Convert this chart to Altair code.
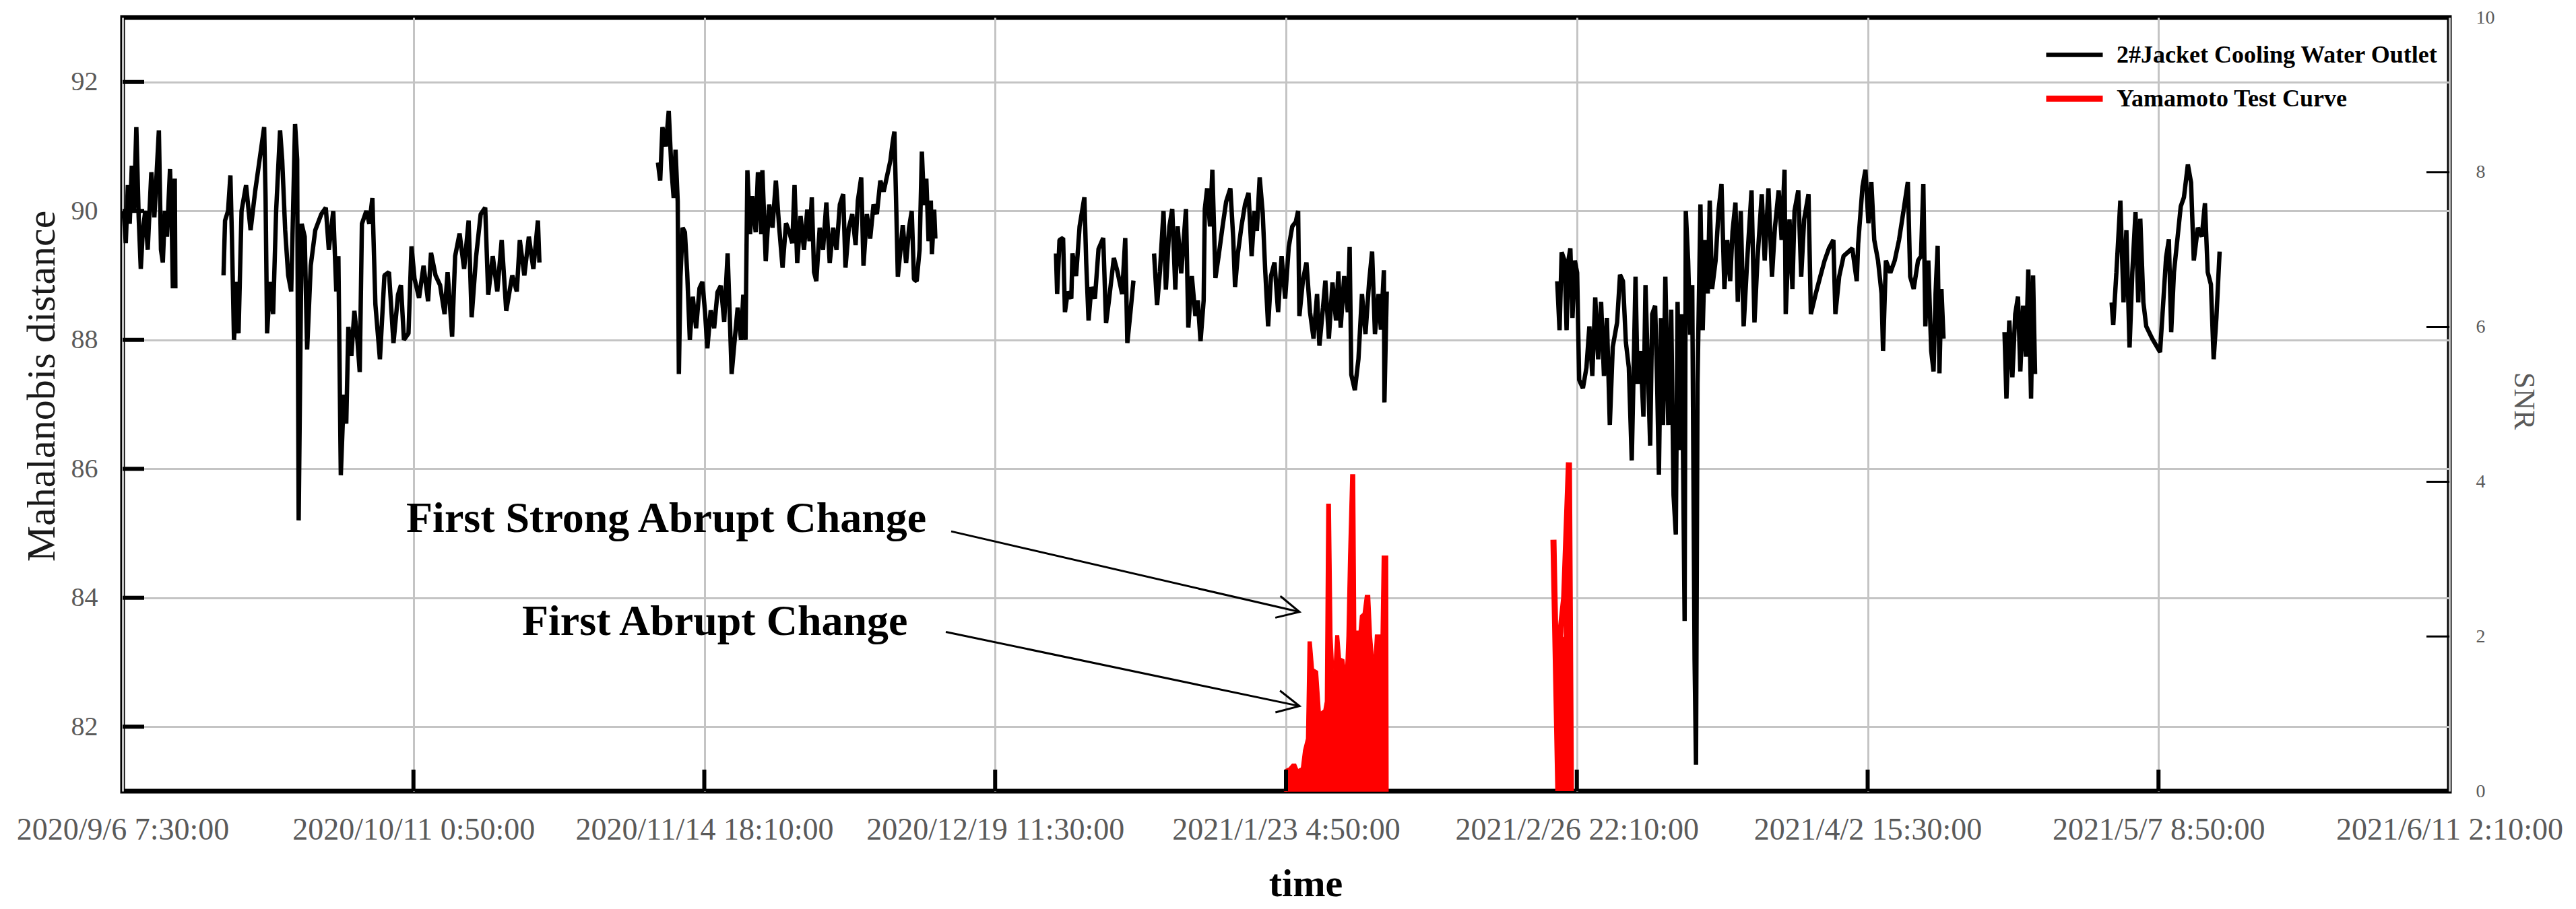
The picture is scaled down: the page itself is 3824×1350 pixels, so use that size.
import altair as alt
import pandas as pd

# ---------------- data ----------------
START = "2020-09-06T07:30:00"
END = "2021-06-11T02:10:00"
tick_times = ["2020-09-06T07:30:00", "2020-10-11T00:50:00", "2020-11-14T18:10:00",
              "2020-12-19T11:30:00", "2021-01-23T04:50:00", "2021-02-26T22:10:00",
              "2021-04-02T15:30:00", "2021-05-07T08:50:00", "2021-06-11T02:10:00"]
inner_tick_times = tick_times[1:-1]
left_ticks = [82, 84, 86, 88, 90, 92]
right_ticks = [0, 2, 4, 6, 8, 10]
right_inner_ticks = [2, 4, 6, 8]

BLACK = "2#Jacket Cooling Water Outlet"
RED = "Yamamoto Test Curve"

# (days after START, Mahalanobis distance)
seg1 = [(0.13, 90.0), (0.38, 89.5), (0.63, 90.4), (0.85, 89.8), (1.1, 90.7), (1.35, 90.0),
        (1.64, 91.3), (1.92, 89.9), (2.17, 89.1), (2.42, 89.7), (2.71, 90.0), (3.0, 89.4),
        (3.43, 90.6), (3.79, 89.9), (4.33, 91.25), (4.58, 89.4), (4.8, 89.2), (5.05, 90.0),
        (5.3, 89.6), (5.66, 90.65), (5.87, 89.8), (6.0, 88.8), (6.23, 90.5), (6.3, 88.8)]
seg2 = [(12.05, 89.0), (12.23, 89.85), (12.59, 90.0), (12.87, 90.55), (13.05, 89.6), (13.3, 88.0),
        (13.66, 88.9), (13.84, 88.1), (14.2, 90.0), (14.74, 90.4), (15.28, 89.7), (15.82, 90.3),
        (16.36, 90.8), (16.9, 91.3), (17.07, 90.2), (17.25, 88.1), (17.61, 88.9), (17.97, 88.4),
        (18.33, 90.0), (18.8, 91.25), (19.05, 90.8), (19.41, 89.7), (19.77, 89.0), (20.13, 88.75),
        (20.59, 91.35), (20.84, 90.8), (21.02, 85.2), (21.38, 89.8), (21.74, 89.6), (22.03, 87.85),
        (22.46, 89.15), (23.0, 89.7), (23.72, 89.95), (24.26, 90.05), (24.62, 89.4), (25.15, 90.0),
        (25.51, 88.75), (25.76, 89.3), (26.05, 85.9), (26.41, 87.15), (26.7, 86.7), (26.95, 88.2),
        (27.31, 87.75), (27.67, 88.45), (28.03, 88.0), (28.31, 87.5), (28.57, 89.8), (29.1, 90.0),
        (29.46, 89.8), (29.82, 90.2), (30.18, 88.55), (30.72, 87.7), (31.26, 89.0), (31.8, 89.05),
        (32.34, 87.95), (32.88, 88.7), (33.23, 88.85), (33.59, 88.0), (34.13, 88.1), (34.49, 89.45),
        (34.85, 88.95), (35.39, 88.65), (35.93, 89.15), (36.47, 88.6), (36.82, 89.35), (37.36, 89.0),
        (37.9, 88.85), (38.44, 88.4), (38.8, 89.05), (39.34, 88.05), (39.7, 89.3), (40.23, 89.65),
        (40.77, 89.1), (41.31, 89.85), (41.67, 88.35), (42.21, 89.3), (42.75, 89.95), (43.29, 90.05),
        (43.65, 88.7), (44.19, 89.3), (44.73, 88.75), (45.26, 89.55), (45.8, 88.45), (46.52, 89.0),
        (47.06, 88.75), (47.42, 89.55), (47.96, 89.0), (48.5, 89.6), (49.04, 89.1), (49.58, 89.85),
        (49.76, 89.2)]
seg3 = [(63.91, 90.75), (64.18, 90.47), (64.45, 91.3), (64.85, 91.0), (65.2, 91.55), (65.52, 90.65),
        (65.79, 90.2), (66.01, 90.95), (66.27, 90.15), (66.41, 87.47), (66.6, 88.98), (66.86, 89.74),
        (67.13, 89.67), (67.4, 89.05), (67.72, 88.0), (68.07, 88.67), (68.47, 88.18), (68.87, 88.8),
        (69.22, 88.9), (69.54, 88.42), (69.81, 87.87), (70.21, 88.46), (70.62, 88.18), (71.02, 88.74),
        (71.42, 88.84), (71.82, 88.28), (72.23, 89.34), (72.49, 88.35), (72.71, 87.47), (73.03, 87.94),
        (73.43, 88.5), (73.83, 88.0), (74.1, 88.7), (74.37, 88.0), (74.59, 90.63), (74.91, 89.64),
        (75.18, 90.23), (75.58, 89.67), (75.85, 90.6), (76.25, 89.64), (76.38, 90.63), (76.78, 89.22),
        (77.19, 90.1), (77.59, 89.74), (77.99, 90.47), (78.39, 89.74), (78.79, 89.12), (79.2, 89.81),
        (79.6, 89.67), (79.95, 89.5), (80.22, 90.4), (80.54, 89.19), (80.94, 89.92), (81.34, 89.4),
        (81.74, 90.02), (82.01, 89.53), (82.28, 90.21), (82.55, 89.05), (82.82, 88.91), (83.22, 89.74),
        (83.62, 89.4), (84.02, 90.13), (84.42, 89.19), (84.83, 89.74), (85.23, 89.4), (85.63, 90.1),
        (86.03, 90.26), (86.3, 89.12), (86.7, 89.74), (87.11, 89.95), (87.51, 89.47), (87.78, 90.16),
        (88.18, 90.52), (88.45, 89.15), (88.85, 89.95), (89.25, 89.57), (89.65, 90.1), (90.05, 89.95),
        (90.46, 90.47), (90.86, 90.3), (91.26, 90.54), (91.66, 90.78), (91.93, 91.06), (92.14, 91.23),
        (92.33, 90.23), (92.55, 88.98), (92.87, 89.4), (93.14, 89.78), (93.54, 89.19), (93.89, 89.74),
        (94.21, 90.0), (94.48, 88.94), (94.8, 88.91), (95.15, 89.4), (95.42, 90.92), (95.68, 90.09),
        (95.95, 90.5), (96.22, 89.53), (96.49, 90.16), (96.62, 89.33), (96.89, 90.02), (97.03, 89.57)]
seg4a = [(111.43, 89.34), (111.57, 88.71), (111.85, 89.55), (112.28, 89.58), (112.5, 88.43),
         (112.84, 88.75), (113.26, 88.64), (113.4, 89.34), (113.83, 88.99), (114.25, 89.76),
         (114.82, 90.21), (115.04, 89.2), (115.32, 88.3), (115.66, 88.82), (116.08, 88.64),
         (116.51, 89.41), (117.07, 89.58), (117.41, 88.26), (117.78, 88.64), (118.34, 89.27),
         (118.77, 89.06), (119.33, 88.71), (119.7, 89.58), (119.95, 87.95), (120.32, 88.43),
         (120.68, 88.92)]
seg4b = [(123.14, 89.34), (123.5, 88.54), (123.84, 89.06), (124.27, 90.0), (124.55, 88.78),
         (124.97, 89.76), (125.31, 90.03), (125.68, 88.78), (125.96, 89.76), (126.38, 89.03),
         (126.95, 90.03), (127.23, 88.19), (127.65, 88.99), (128.07, 88.37), (128.36, 88.61),
         (128.69, 87.98), (129.06, 88.61), (129.2, 90.03), (129.48, 90.35), (129.82, 89.76),
         (130.1, 90.64), (130.47, 88.96), (130.89, 89.34), (131.32, 89.76), (131.74, 90.14),
         (132.25, 90.35), (132.59, 89.58), (132.81, 88.82), (133.15, 89.34), (133.57, 89.76),
         (134.0, 90.1), (134.42, 90.28), (134.79, 89.3), (135.13, 90.0), (135.41, 89.69),
         (135.75, 90.52), (136.11, 89.97), (136.4, 89.1), (136.76, 88.21), (137.1, 88.99),
         (137.52, 89.2), (137.95, 88.43), (138.37, 89.3), (138.79, 88.64), (139.22, 89.44),
         (139.64, 89.76), (140.06, 89.83), (140.34, 90.0), (140.49, 88.37), (140.91, 88.92),
         (141.33, 89.2), (141.76, 88.43), (142.18, 88.02), (142.6, 88.71), (142.88, 87.91),
         (143.31, 88.5), (143.59, 88.92), (144.01, 88.02), (144.44, 88.89), (144.86, 88.3),
         (145.14, 89.06), (145.42, 88.19), (145.84, 88.99), (146.27, 88.43), (146.49, 89.44),
         (146.69, 87.46), (147.11, 87.22), (147.54, 87.7), (147.96, 88.71), (148.38, 88.09),
         (148.81, 88.89), (149.17, 89.37), (149.51, 88.09), (149.94, 88.71), (150.22, 88.16),
         (150.58, 89.08), (150.64, 87.03), (150.92, 88.75)]
seg5 = [(171.27, 88.91), (171.55, 88.15), (171.8, 89.36), (172.15, 89.23), (172.39, 88.15),
        (172.6, 89.23), (172.84, 89.42), (173.09, 88.34), (173.37, 89.23), (173.65, 89.04),
        (173.89, 87.38), (174.34, 87.25), (174.76, 87.57), (175.11, 88.21), (175.46, 87.44),
        (175.81, 88.66), (176.16, 87.7), (176.51, 88.59), (176.85, 87.44), (177.2, 88.34),
        (177.55, 86.68), (177.9, 87.89), (178.42, 88.27), (178.77, 89.01), (179.12, 88.91),
        (179.47, 87.96), (179.82, 87.57), (180.17, 86.13), (180.62, 88.98), (180.87, 87.32),
        (181.21, 87.83), (181.56, 86.81), (181.81, 88.85), (182.09, 87.57), (182.37, 86.36),
        (182.61, 88.4), (182.96, 88.53), (183.2, 87.32), (183.41, 85.91), (183.66, 88.34),
        (183.9, 86.68), (184.18, 88.98), (184.53, 86.68), (184.88, 88.47), (185.16, 85.59),
        (185.43, 84.98), (185.64, 88.59), (185.92, 86.29), (186.13, 88.4), (186.48, 83.64),
        (186.62, 90.0), (186.9, 89.23), (187.14, 88.08), (187.39, 88.85), (187.67, 83.04),
        (187.84, 81.41), (188.02, 87.32), (188.37, 90.1), (188.64, 88.15), (188.92, 89.55),
        (189.24, 88.72), (189.48, 90.16), (189.76, 88.79), (190.18, 89.23), (190.53, 90.0),
        (190.88, 90.42), (191.23, 88.79), (191.57, 89.55), (191.92, 88.91), (192.2, 89.68),
        (192.55, 90.13), (192.83, 88.59), (193.18, 90.0), (193.53, 88.21), (193.95, 89.23),
        (194.47, 90.32), (194.82, 88.27), (195.17, 89.23), (195.69, 90.26), (196.04, 89.23),
        (196.49, 90.35), (196.91, 88.98), (197.26, 89.74), (197.71, 90.32), (198.06, 89.55),
        (198.41, 90.64), (198.55, 88.4), (199.0, 89.87), (199.35, 88.79), (199.6, 90.0),
        (200.05, 90.32), (200.4, 88.98), (200.75, 89.87), (201.27, 90.26), (201.55, 88.4),
        (202.14, 88.72), (202.67, 88.98), (203.19, 89.23), (203.71, 89.42), (204.24, 89.55),
        (204.48, 88.4), (204.93, 88.98), (205.46, 89.3), (205.98, 89.36), (206.5, 89.42),
        (207.03, 88.91), (207.2, 89.49), (207.72, 90.38), (208.07, 90.64), (208.42, 89.81),
        (208.77, 90.45), (209.12, 89.55), (209.57, 89.23), (209.99, 88.72), (210.17, 87.83),
        (210.51, 89.23), (211.04, 89.04), (211.56, 89.23), (212.08, 89.55), (212.61, 90.0),
        (213.13, 90.45), (213.41, 88.98), (213.83, 88.79), (214.35, 89.23), (214.7, 89.3),
        (214.98, 90.42), (215.22, 88.21), (215.57, 89.23), (215.92, 87.83), (216.2, 87.51),
        (216.44, 88.72), (216.69, 89.46), (216.9, 87.48), (217.14, 88.79), (217.39, 88.02)]
seg6 = [(224.67, 88.12), (224.9, 87.09), (225.24, 88.3), (225.61, 87.42), (225.95, 88.4),
        (226.28, 88.67), (226.56, 87.51), (226.89, 88.53), (227.23, 87.74), (227.51, 89.09),
        (227.84, 87.09), (228.08, 89.0), (228.32, 87.47)]
seg7 = [(237.46, 88.58), (237.65, 88.23), (238.03, 89.05), (238.5, 90.16), (238.88, 88.58),
        (239.22, 89.7), (239.6, 87.88), (239.93, 89.05), (240.31, 89.98), (240.64, 88.58),
        (240.88, 89.88), (241.25, 88.58), (241.59, 88.21), (242.3, 88.02), (243.24, 87.81),
        (243.62, 88.58), (243.96, 89.28), (244.29, 89.56), (244.57, 88.12), (244.9, 89.05),
        (245.38, 89.65), (245.71, 90.07), (246.09, 90.21), (246.56, 90.72), (246.94, 90.44),
        (247.27, 89.23), (247.75, 89.74), (248.22, 89.6), (248.6, 90.12), (248.93, 89.05),
        (249.31, 88.86), (249.64, 87.7), (249.97, 88.35), (250.35, 89.37)]

# (days after START, SNR)
red_cluster = [(138.7, 0.04), (138.84, 0.28), (139.24, 0.3), (139.64, 0.35), (140.05, 0.35),
               (140.31, 0.28), (140.72, 0.3), (140.98, 0.53), (141.33, 0.68), (141.52, 1.93),
               (141.92, 1.93), (142.19, 1.58), (142.67, 1.55), (143.0, 1.02), (143.4, 1.05),
               (143.58, 1.16), (143.75, 3.71), (144.2, 3.71), (144.39, 2.01), (144.6, 1.55),
               (144.82, 2.01), (145.19, 2.01), (145.41, 1.72), (145.81, 1.7), (146.0, 1.55),
               (146.16, 2.01), (146.35, 3.02), (146.61, 4.09), (147.1, 4.09), (147.23, 2.07),
               (147.61, 2.07), (147.77, 2.27), (148.09, 2.3), (148.36, 2.53), (148.89, 2.53),
               (149.11, 2.01), (149.38, 1.67), (149.56, 2.02), (150.23, 2.02), (150.37, 3.04),
               (151.04, 3.04), (151.09, 0.0)]
red_spike_fill = [(171.3, 0.0), (171.5, 1.95), (172.05, 2.0), (172.67, 4.25), (172.91, 0.0)]
red_spike = [(170.82, 3.25), (171.4, 0.0), (171.55, 1.95), (172.1, 2.5), (172.67, 4.25),
             (172.91, 0.0)]

ann_text = ["First Strong Abrupt Change", "First Abrupt Change"]
ann_day = [33.86, 47.69]
ann_val = [85.02, 83.42]
arrow_day0 = [98.92, 98.28]
arrow_val0 = [85.03, 83.47]
arrow_day1 = [140.5, 140.5]
arrow_val1 = [83.78, 82.32]
arrow_angle = [13.1, 11.8]

# ---------------- build tables ----------------
start = pd.Timestamp(START)


def to_dates(days):
    return (start + pd.to_timedelta(pd.Series(days, dtype=float), unit="D")).dt.round("s")


def seg_frame(pairs, seg, series, col):
    d = [p[0] for p in pairs]
    v = [p[1] for p in pairs]
    return pd.DataFrame({"date": to_dates(d), col: v, "seg": seg, "series": series})


black_df = pd.concat([seg_frame(s, i, BLACK, "value") for i, s in
                      enumerate([seg1, seg2, seg3, seg4a, seg4b, seg5, seg6, seg7])],
                     ignore_index=True)
red_area1_df = seg_frame(red_cluster, 0, RED, "snr")
red_area2_df = seg_frame(red_spike_fill, 1, RED, "snr")
red_line_df = seg_frame(red_spike, 1, RED, "snr")

ann_df = pd.DataFrame({"date": to_dates(ann_day), "value": ann_val, "label": ann_text})
arrow_df = pd.DataFrame({"d0": to_dates(arrow_day0), "v0": arrow_val0,
                         "d1": to_dates(arrow_day1), "v1": arrow_val1})
xtick_df = pd.DataFrame({"date": pd.to_datetime(inner_tick_times)})
ltick_df = pd.DataFrame({"v": left_ticks})
rtick_df = pd.DataFrame({"v": right_inner_ticks})


def dt(s):
    t = pd.Timestamp(s)
    return alt.DateTime(year=t.year, month=t.month, date=t.day, hours=t.hour, minutes=t.minute)


W, H = 3454, 1149
FONT = "Liberation Serif"
GRAY = "#5a5a5a"

x_scale = alt.Scale(domain=[dt(START), dt(END)])
x_axis = alt.Axis(values=[dt(s) for s in tick_times], format="%Y/%-m/%-d %-H:%M:%S",
                  grid=True, gridColor="#c4c4c4", gridWidth=3, ticks=False, domain=False,
                  labelFlush=False, labelOverlap=False, labelFontSize=46, labelColor=GRAY,
                  labelPadding=35, labelFont=FONT, labelLimit=0,
                  title="time", titleFontSize=58, titleFontWeight="bold", titleFont=FONT,
                  titleColor="black", titleX=1756, titleY=155, titleBaseline="alphabetic")
left_scale = alt.Scale(domain=[81, 93], nice=False, zero=False)
right_scale = alt.Scale(domain=[0, 10], nice=False, zero=False)
left_axis = alt.Axis(orient="left", values=left_ticks, grid=True, gridColor="#c4c4c4",
                     gridWidth=3, ticks=False, domain=False, labelFontSize=40,
                     labelColor=GRAY, labelPadding=37, labelFont=FONT,
                     title="Mahalanobis distance", titleFontSize=60, titleFontWeight="normal",
                     titleFont=FONT, titleColor="#1a1a1a", titleX=-120, titleY=547,
                     titleAngle=-90, titleBaseline="middle")
right_axis = alt.Axis(orient="right", values=right_ticks, grid=False, ticks=False, domain=False,
                      labelFontSize=28, labelColor=GRAY, labelPadding=39, labelFont=FONT,
                      title="SNR", titleFontSize=44, titleFontWeight="normal", titleFont=FONT,
                      titleColor=GRAY, titleX=109, titleY=569, titleAngle=90,
                      titleBaseline="middle")

legend = alt.Legend(title=None, orient="none", legendX=2851, legendY=10, symbolType="stroke",
                    symbolSize=7056, labelFontSize=36, labelFont=FONT, labelFontWeight="bold",
                    labelColor="black", labelOffset=16, rowPadding=-8, padding=0, labelLimit=0)
color = alt.Color("series:N", scale=alt.Scale(domain=[BLACK, RED], range=["#000000", "#ff0000"]),
                  legend=legend)
swidth = alt.StrokeWidth("series:N", scale=alt.Scale(domain=[BLACK, RED], range=[6.5, 9]),
                         legend=legend)

x_enc = alt.X("date:T", scale=x_scale, axis=x_axis)

black_line = alt.Chart(black_df).mark_line(strokeJoin="bevel").encode(
    x=x_enc, y=alt.Y("value:Q", scale=left_scale, axis=left_axis),
    color=color, strokeWidth=swidth, detail="seg:N")

red_area1 = alt.Chart(red_area1_df).mark_area(color="#ff0000", stroke="#ff0000", strokeWidth=1.5,
                                             opacity=1).encode(
    x=x_enc, y=alt.Y("snr:Q", scale=right_scale, axis=right_axis, stack=None))
red_area2 = alt.Chart(red_area2_df).mark_area(color="#ff0000", opacity=1).encode(
    x=x_enc, y=alt.Y("snr:Q", scale=right_scale, axis=None, stack=None))

red_line = alt.Chart(red_line_df).mark_line(strokeJoin="bevel").encode(
    x=x_enc, y=alt.Y("snr:Q", scale=right_scale, axis=None),
    color=color, strokeWidth=swidth, detail="seg:N")

ann_text_layer = alt.Chart(ann_df).mark_text(align="left", baseline="alphabetic", font=FONT,
                                             fontSize=64, fontWeight="bold", color="black").encode(
    x=x_enc, y=alt.Y("value:Q", scale=left_scale, axis=None), text="label:N")

arrow_lines = alt.Chart(arrow_df).mark_rule(color="black", strokeWidth=3).encode(
    x=alt.X("d0:T", scale=x_scale, axis=x_axis), x2="d1:T",
    y=alt.Y("v0:Q", scale=left_scale, axis=None), y2="v1:Q")

heads = []
for i in range(len(arrow_angle)):
    heads.append(alt.Chart(arrow_df.iloc[[i]]).mark_point(
        shape="M-1,-0.5L0,0L-1,0.5", filled=False, size=4356, strokeWidth=3,
        color="black", opacity=1, angle=arrow_angle[i]).encode(
        x=alt.X("d1:T", scale=x_scale, axis=x_axis),
        y=alt.Y("v1:Q", scale=left_scale, axis=None)))

xticks = alt.Chart(xtick_df).mark_rule(color="black", strokeWidth=6).encode(
    x=alt.X("date:T", scale=x_scale, axis=x_axis), y=alt.value(H), y2=alt.value(H - 32))
lticks = alt.Chart(ltick_df).mark_rule(color="black", strokeWidth=6).encode(
    y=alt.Y("v:Q", scale=left_scale, axis=None), x=alt.value(0), x2=alt.value(32))
rticks = alt.Chart(rtick_df).mark_rule(color="black", strokeWidth=3).encode(
    y=alt.Y("v:Q", scale=right_scale, axis=None), x=alt.value(W - 34), x2=alt.value(W))

chart = alt.layer(
    black_line, red_area1, red_area2, red_line, ann_text_layer, arrow_lines, *heads,
    xticks, lticks, rticks
).resolve_scale(y="independent").properties(
    width=W, height=H,
    autosize=alt.AutoSizeParams(type="none"),
    padding={"left": 174, "top": 18, "right": 176, "bottom": 167},
    background="white",
).configure_view(stroke="black", strokeWidth=7)

chart.save("out.html", embed_options={"renderer": "svg", "actions": False})
